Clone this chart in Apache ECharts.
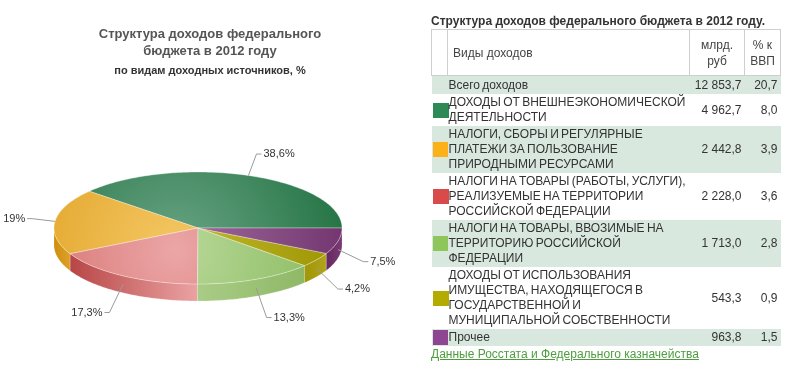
<!DOCTYPE html>
<html>
<head>
<meta charset="utf-8">
<script src="https://cdn.jsdelivr.net/npm/echarts@6/dist/echarts.min.js"></script>
<style>
  html, body { margin:0; padding:0; background:#fff; }
  #chart { position:absolute; left:0; top:0; width:796px; height:371px; }
  #panel { position:absolute; left:431px; top:14px; width:349px; font-family:"Liberation Sans", Arial, sans-serif; color:#333; font-size:12px; }
  #panel .ttl { font-weight:bold; font-size:12px; line-height:15px; height:15px; white-space:nowrap; color:#333; }
  #panel table { border-collapse:collapse; width:349px; table-layout:fixed; }
  #panel th { font-weight:normal; border:1px solid #cfcfcf; height:45px; padding:0; color:#444; vertical-align:middle; line-height:16px; }
  #panel td { padding-top:1px; padding-bottom:1px; line-height:15px; vertical-align:middle; color:#333; }
  #panel tr.alt td { background:#d9e8df; }
  #panel tr.tot td { padding-top:2px; }
  #panel .sw { display:block; width:16px; height:15px; }
  #panel td.num { text-align:right; padding-right:3px; }
  #panel td.name { padding-left:1px; word-spacing:-1px; }
  #panel a { display:block; color:#4d9d3e; text-decoration:underline; line-height:15px; margin-top:1px; white-space:nowrap; }
</style>
</head>
<body>
<div id="chart"></div>
<div id="panel"></div>
<script>
// ---- data ----
const categories = [
  'ДОХОДЫ ОТ ВНЕШНЕЭКОНОМИЧЕСКОЙ ДЕЯТЕЛЬНОСТИ',
  'НАЛОГИ, СБОРЫ И РЕГУЛЯРНЫЕ ПЛАТЕЖИ ЗА ПОЛЬЗОВАНИЕ ПРИРОДНЫМИ РЕСУРСАМИ',
  'НАЛОГИ НА ТОВАРЫ (РАБОТЫ, УСЛУГИ), РЕАЛИЗУЕМЫЕ НА ТЕРРИТОРИИ РОССИЙСКОЙ ФЕДЕРАЦИИ',
  'НАЛОГИ НА ТОВАРЫ, ВВОЗИМЫЕ НА ТЕРРИТОРИЮ РОССИЙСКОЙ ФЕДЕРАЦИИ',
  'ДОХОДЫ ОТ ИСПОЛЬЗОВАНИЯ ИМУЩЕСТВА, НАХОДЯЩЕГОСЯ В ГОСУДАРСТВЕННОЙ И МУНИЦИПАЛЬНОЙ СОБСТВЕННОСТИ',
  'Прочее'
];
const valuesBln = [4962.7, 2442.8, 2228.0, 1713.0, 543.3, 963.8];
const pctGdp = [8.0, 3.9, 3.6, 2.8, 0.9, 1.5];
const totalLabel = 'Всего доходов';
const totalBln = 12853.7;
const totalPctGdp = 20.7;
const headerLabels = ['Виды доходов', 'млрд.<br>руб', '% к<br>ВВП'];
const tableTitle = 'Структура доходов федерального бюджета в 2012 году.';
const sourceText = 'Данные Росстата и Федерального казначейства';
const chartTitle = 'Структура доходов федерального\nбюджета в 2012 году';
const chartSubtitle = 'по видам доходных источников, %';

// ---- styles ----
const swatchColors = ['#2e8a55', '#fbb117', '#d94a4a', '#8fc65c', '#b4ab00', '#8e4592'];
const topBase  = ['#247344', '#e0a224', '#d26a6a', '#86b95a', '#9a9200', '#72346f'];
const topLight = ['#6aa585', '#f4c764', '#eca6a6', '#b9d89a', '#c4bb2e', '#a06e9d'];
const wallDark = ['#1c5c36', '#cf8f0c', '#b84646', '#a9cc86', '#a09606', '#66285f'];
const wallLight= ['#2e7a4e', '#dca12a', '#eba2a2', '#8fb866', '#b0a41a', '#7a3a75'];

function fmt(v, d) {
  let s = v.toFixed(d).replace('.', ',');
  let parts = s.split(',');
  parts[0] = parts[0].replace(/\B(?=(\d{3})+(?!\d))/g, ' ');
  return parts.join(',');
}

// ---- table ----
(function buildTable() {
  let h = '<div class="ttl">' + tableTitle + '</div><table>';
  h += '<colgroup><col style="width:16px"><col style="width:242px"><col style="width:55px"><col style="width:36px"></colgroup>';
  h += '<tr><th></th><th style="text-align:left;padding-left:5px">' + headerLabels[0] + '</th><th>' + headerLabels[1] + '</th><th>' + headerLabels[2] + '</th></tr>';
  h += '<tr class="alt tot"><td></td><td class="name">' + totalLabel + '</td><td class="num">' + fmt(totalBln, 1) + '</td><td class="num">' + fmt(totalPctGdp, 1) + '</td></tr>';
  categories.forEach((c, i) => {
    const cls = (i % 2 === 1 || i === categories.length - 1) ? ' class="alt"' : '';
    h += '<tr' + cls + '><td><span class="sw" style="background:' + swatchColors[i] + '"></span></td><td class="name">' + c + '</td><td class="num">' + fmt(valuesBln[i], 1) + '</td><td class="num">' + fmt(pctGdp[i], 1) + '</td></tr>';
  });
  h += '</table><a href="#">' + sourceText + '</a>';
  document.getElementById('panel').innerHTML = h;
})();

// ---- 3D-look pie via custom series ----
const total = valuesBln.reduce((a, b) => a + b, 0);
const cum = [];
valuesBln.reduce((acc, v, i) => { cum[i] = acc; return acc + v; }, 0);

const CX = 198, CY = 228, RX = 144, RY = 56, DEPTH = 17;
function pt(deg, dy) {
  const t = deg * Math.PI / 180;
  return [CX + RX * Math.cos(t), CY - RY * Math.sin(t) + (dy || 0)];
}
function arc(a, b, dy) {
  const pts = [];
  const n = Math.max(2, Math.ceil(b - a));
  for (let k = 0; k <= n; k++) pts.push(pt(a + (b - a) * k / n, dy));
  return pts;
}
function pctLabel(v) {
  let s = (v / total * 100).toFixed(1);
  if (s.endsWith('.0')) s = s.slice(0, -2);
  return s.replace('.', ',') + '%';
}

const chart = echarts.init(document.getElementById('chart'), null, { renderer: 'canvas' });
chart.setOption({
  animation: false,
  title: {
    text: chartTitle,
    subtext: chartSubtitle,
    left: 205,
    top: 21,
    textAlign: 'center',
    itemGap: 4,
    textStyle: { fontFamily: 'Liberation Sans, Arial', fontSize: 13, fontWeight: 'bold', color: '#555', lineHeight: 17 },
    subtextStyle: { fontFamily: 'Liberation Sans, Arial', fontSize: 11, fontWeight: 'bold', color: '#333', lineHeight: 13 }
  },
  series: [{
    type: 'custom',
    coordinateSystem: 'none',
    data: valuesBln.map((v, i) => [i, v]),
    renderItem: function (params, api) {
      const i = params.dataIndex;
      const v = api.value(1);
      const a = cum[i] / total * 360;
      const b = (cum[i] + v) / total * 360;
      const children = [];
      // wall (front half only: 180..360)
      const wa = Math.max(a, 180), wb = Math.min(b, 360);
      if (wb > wa) {
        const top = arc(wa, wb, 0);
        const bot = arc(wa, wb, DEPTH).reverse();
        const x0 = top[0][0], x1 = top[top.length - 1][0];
        children.push({
          type: 'polygon',
          shape: { points: top.concat(bot) },
          style: {
            fill: {
              type: 'linear', x: Math.min(x0, x1), y: 0, x2: Math.max(x0, x1), y2: 0, global: true,
              colorStops: [{ offset: 0, color: wallDark[i] }, { offset: 1, color: wallLight[i] }]
            },
            stroke: 'rgba(255,255,255,0.35)', lineWidth: 0.5
          }
        });
      }
      // top face
      children.push({
        type: 'polygon',
        shape: { points: [[CX, CY]].concat(arc(a, b, 0)) },
        style: {
          fill: {
            type: 'radial', x: 175, y: 250, r: 175, global: true,
            colorStops: [{ offset: 0, color: topLight[i] }, { offset: 1, color: topBase[i] }]
          },
          stroke: 'rgba(255,255,255,0.55)', lineWidth: 0.6
        }
      });
      // label with leader
      const m = (a + b) / 2;
      const t = m * Math.PI / 180;
      const front = Math.sin(t) < 0;
      const s = pt(m, front ? DEPTH / 2 : 0);
      let e;
      if (front) e = [s[0] + 26 * Math.cos(t), s[1] - 26 * Math.sin(t) + 6];
      else e = [s[0] + 23 * Math.cos(t), s[1] - 23 * Math.sin(t)];
      const right = Math.cos(t) >= 0;
      const h = [e[0] + (right ? 5 : -5), e[1]];
      children.push({
        type: 'polyline',
        shape: { points: [s, e, h] },
        style: { stroke: '#9a9a9a', lineWidth: 1, fill: null }
      });
      children.push({
        type: 'text',
        x: h[0] + (right ? 2 : -2),
        y: h[1],
        style: {
          text: pctLabel(v),
          fill: '#333',
          font: '11px "Liberation Sans", Arial, sans-serif',
          align: right ? 'left' : 'right',
          verticalAlign: 'middle'
        }
      });
      return { type: 'group', children: children };
    }
  }]
});
</script>
</body>
</html>
